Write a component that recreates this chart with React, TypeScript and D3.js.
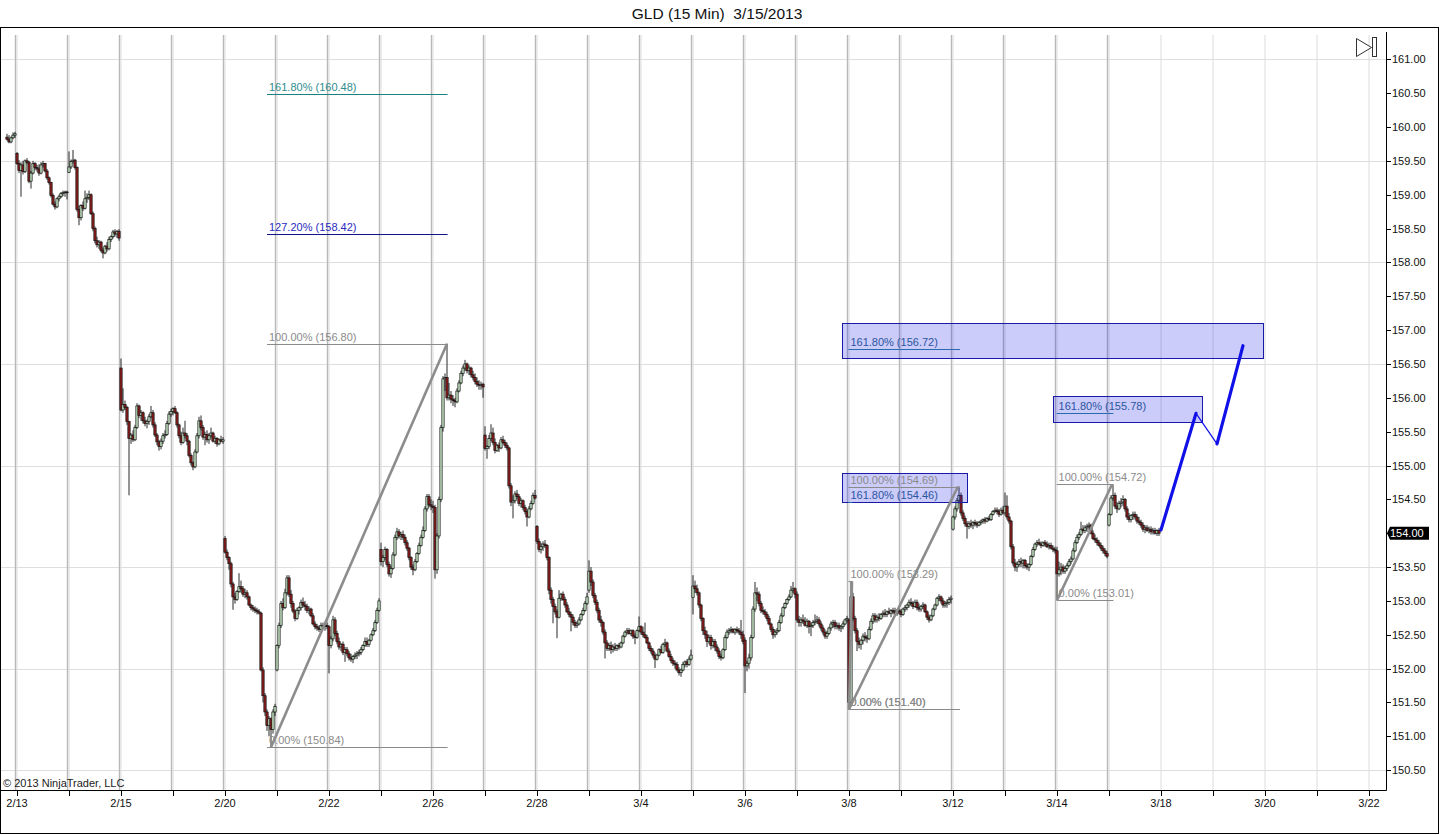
import React from 'react';
import * as d3 from 'd3';

// ---------- data ----------
const TITLE = 'GLD (15 Min)  3/15/2013';
const COPYRIGHT = '\u00A9 2013 NinjaTrader, LLC';
const DAYS = ['2/13','2/14','2/15','2/19','2/20','2/21','2/22','2/25','2/26','2/27','2/28','3/1','3/4','3/5','3/6','3/7','3/8','3/11','3/12','3/13','3/14','3/15','3/18','3/19','3/20','3/21','3/22'];
const BARS_PER_DAY = 26;
const LAST_DATA_DAY = 21;
const PRICE_TICKS = [150.5,151,151.5,152,152.5,153,153.5,154,154.5,155,155.5,156,156.5,157,157.5,158,158.5,159,159.5,160,160.5,161];
const PRICE_GRID = [150.5,152,153.5,155,156.5,158,159.5,161];
const LAST_PRICE = 154.0;

// 15-minute bars: [open, high, low, close] in cents above 150.00
const s0212 = [[985,990,980,982],[982,988,976,978],[978,986,976,984],[984,992,982,988],[988,993,984,990]];
const s0213 = [[961,963,944,946],[946,951,932,936],[936,948,897,944],[944,950,930,934],[934,952,932,950],[950,954,945,948],[948,950,917,920],[920,935,909,932],[932,950,930,946],[946,948,936,940],[940,944,934,938],[938,945,928,932],[932,948,930,944],[944,950,940,946],[946,947,933,935],[935,938,922,925],[925,927,915,918],[918,919,896,899],[899,902,884,886],[886,890,878,882],[882,896,880,894],[894,900,890,897],[897,904,895,902],[902,906,898,903],[903,906,897,904],[904,906,893,903]];
const s0214 = [[933,964,932,941],[941,952,938,949],[949,966,946,951],[951,953,937,940],[940,942,875,878],[878,884,855,866],[866,886,862,884],[884,890,876,880],[880,906,878,894],[894,902,888,896],[896,906,892,900],[900,902,870,872],[872,875,846,850],[850,853,828,832],[832,838,822,826],[826,833,820,830],[830,832,815,818],[818,822,806,814],[814,826,812,824],[824,830,816,820],[820,838,818,834],[834,840,830,838],[838,848,835,845],[845,849,838,842],[842,848,836,846],[846,849,832,836]];
const s0215 = [[644,658,580,582],[582,614,578,590],[590,596,582,586],[586,588,560,565],[565,566,456,540],[540,548,532,545],[545,552,535,538],[538,560,536,556],[556,592,554,588],[588,590,570,574],[574,582,566,578],[578,580,562,566],[566,572,558,562],[562,568,555,565],[565,576,560,572],[572,588,570,578],[578,582,556,560],[560,564,542,545],[545,548,530,535],[535,538,522,528],[528,540,524,536],[536,548,532,544],[544,552,540,546],[546,566,544,562],[562,580,560,576],[576,584,572,580]];
const s0219 = [[580,586,574,584],[584,588,576,578],[578,580,556,560],[560,562,540,544],[544,550,530,534],[534,556,532,548],[548,566,540,544],[544,548,530,536],[536,538,512,515],[515,518,500,504],[504,506,493,498],[498,524,496,520],[520,548,518,544],[544,572,540,566],[566,574,552,556],[556,560,538,542],[542,550,530,546],[546,552,534,538],[538,548,532,544],[544,556,540,548],[548,550,534,536],[536,544,532,540],[540,542,528,532],[532,540,530,538],[538,544,534,536],[536,542,532,538]];
const s0220 = [[392,396,370,372],[372,376,360,364],[364,366,346,355],[355,358,320,325],[325,328,287,306],[306,312,296,302],[302,316,300,314],[314,341,312,321],[321,330,312,318],[318,322,306,310],[310,318,304,312],[312,316,302,306],[306,308,292,294],[294,296,286,290],[290,294,284,288],[288,292,282,286],[286,290,280,284],[284,288,280,282],[282,284,196,198],[198,202,150,160],[160,164,130,136],[136,140,108,116],[116,130,100,126],[126,128,84,110],[110,140,104,136],[136,148,130,144]];
const s0221 = [[198,236,196,234],[234,268,230,264],[264,300,260,296],[296,304,286,290],[290,318,288,312],[312,338,308,334],[334,338,306,310],[310,316,290,296],[296,300,282,285],[285,288,270,274],[274,290,272,286],[286,292,280,290],[290,302,286,298],[298,305,290,294],[294,300,286,292],[292,296,282,286],[286,292,280,288],[288,290,276,278],[278,282,264,266],[266,270,258,262],[262,266,256,260],[260,264,254,258],[258,268,256,264],[264,268,258,262],[262,266,256,264],[264,268,258,262]];
const s0222 = [[262,264,193,234],[234,248,230,244],[244,278,240,272],[272,276,248,252],[252,256,236,240],[240,246,228,232],[232,238,226,236],[236,240,220,224],[224,232,210,228],[228,232,218,222],[222,226,212,216],[216,222,210,214],[214,220,208,218],[218,224,214,220],[220,226,214,222],[222,228,218,224],[224,232,220,228],[228,236,226,234],[234,246,232,240],[240,246,232,236],[236,244,232,242],[242,252,240,250],[250,260,248,256],[256,272,254,268],[268,290,266,286],[286,304,284,300]];
const s0225 = [[376,386,352,358],[358,368,350,364],[364,380,360,376],[376,378,350,354],[354,358,336,340],[340,352,334,348],[348,372,346,368],[368,398,366,394],[394,408,390,402],[402,406,392,396],[396,402,390,398],[398,404,390,394],[394,398,382,386],[386,390,374,378],[378,380,360,364],[364,366,346,350],[350,354,338,346],[346,362,344,358],[358,372,356,370],[370,386,368,382],[382,398,380,394],[394,410,392,404],[404,440,402,436],[436,458,432,454],[454,458,438,442],[442,450,434,440]];
const s0226 = [[440,448,430,438],[438,442,333,346],[346,400,340,396],[396,454,392,450],[450,560,446,556],[556,632,550,628],[628,636,610,630],[630,680,596,600],[600,622,596,604],[604,610,592,598],[598,604,588,596],[596,600,586,594],[594,614,592,610],[610,626,608,622],[622,640,620,636],[636,648,632,644],[644,656,640,650],[650,652,636,640],[640,648,634,644],[644,646,630,634],[634,640,626,630],[630,636,620,624],[624,630,616,620],[620,626,612,618],[618,624,612,620],[620,622,600,616]];
const s0227 = [[545,558,522,525],[525,530,510,528],[528,545,524,540],[540,561,536,548],[548,556,530,534],[534,540,518,522],[522,532,520,530],[530,534,520,526],[526,542,524,538],[538,544,532,534],[534,538,526,530],[530,534,522,526],[526,528,466,470],[470,474,440,446],[446,456,422,448],[448,462,444,458],[458,464,450,454],[454,458,440,444],[444,452,438,448],[448,450,434,438],[438,442,428,432],[432,436,410,424],[424,440,422,436],[436,448,434,444],[444,460,442,456],[456,464,450,452]];
const s0228 = [[410,412,384,388],[388,392,372,376],[376,386,370,380],[380,388,374,384],[384,390,378,382],[382,384,360,364],[364,366,310,316],[316,320,296,302],[302,306,267,292],[292,296,280,284],[284,288,245,276],[276,316,274,304],[304,312,300,310],[310,314,300,302],[302,306,290,294],[294,298,282,284],[284,290,276,280],[280,284,255,276],[276,280,264,268],[268,272,260,264],[264,270,260,266],[266,276,264,272],[272,282,270,280],[280,290,278,286],[286,300,284,296],[296,312,294,306]];
const s0301 = [[316,360,312,344],[344,350,322,328],[328,332,304,308],[308,312,294,298],[298,302,282,286],[286,290,268,272],[272,278,262,268],[268,270,250,254],[254,258,215,238],[238,242,226,230],[230,238,226,234],[234,240,222,228],[228,236,224,232],[232,238,226,230],[230,236,226,234],[234,238,228,232],[232,240,230,238],[238,250,236,248],[248,256,246,254],[254,260,250,256],[256,260,250,252],[252,258,248,256],[256,258,244,248],[248,252,236,246],[246,258,244,256],[256,277,254,262]];
const s0304 = [[262,264,250,254],[254,262,246,250],[250,268,244,246],[246,250,236,238],[238,240,226,230],[230,234,222,226],[226,230,216,220],[220,224,201,214],[214,222,212,220],[220,230,218,228],[228,234,222,224],[224,238,222,236],[236,244,232,238],[238,240,224,226],[226,230,216,218],[218,222,208,212],[212,216,204,208],[208,212,200,206],[206,210,196,198],[198,202,190,194],[194,200,188,198],[198,210,196,206],[206,212,202,210],[210,214,202,206],[206,218,204,214],[214,228,212,220]];
const s0305 = [[305,338,280,322],[322,330,312,318],[318,324,308,312],[312,314,290,294],[294,296,270,274],[274,276,250,256],[256,262,244,250],[250,256,232,240],[240,250,236,246],[246,250,228,234],[234,244,230,240],[240,244,226,232],[232,236,222,226],[226,230,214,218],[218,222,212,216],[216,230,214,228],[228,250,226,246],[246,258,244,254],[254,260,250,256],[256,262,252,258],[258,260,252,254],[254,260,250,258],[258,262,252,256],[256,260,250,254],[254,272,244,250],[250,256,236,240]];
const s0306 = [[242,246,164,204],[204,212,196,208],[208,222,200,216],[216,250,212,246],[246,292,244,288],[288,328,284,312],[312,320,300,310],[310,314,292,296],[296,300,282,286],[286,292,280,284],[284,288,276,280],[280,284,270,274],[274,278,264,266],[266,268,254,258],[258,262,244,250],[250,258,246,254],[254,260,250,256],[256,272,254,268],[268,282,266,278],[278,292,276,290],[290,298,288,296],[296,304,294,302],[302,310,300,306],[306,322,304,316],[316,328,312,318],[318,320,304,310]];
const s0307 = [[310,314,268,272],[272,278,262,268],[268,276,262,272],[272,280,266,270],[270,276,262,264],[264,274,260,270],[270,272,252,262],[262,268,248,264],[264,272,260,268],[268,280,264,270],[270,278,266,272],[272,276,262,266],[266,270,256,260],[260,264,250,254],[254,258,244,248],[248,256,244,252],[252,262,250,260],[260,270,256,266],[266,272,260,268],[268,272,258,262],[262,268,258,264],[264,268,256,260],[260,264,254,262],[262,270,258,266],[266,274,264,272],[272,278,268,274]];
const s0308 = [[272,274,140,150],[150,329,148,306],[306,312,270,274],[274,278,252,256],[256,260,226,240],[240,246,230,236],[236,244,228,242],[242,252,236,248],[248,254,240,246],[246,250,238,244],[244,262,242,258],[258,274,256,270],[270,282,266,278],[278,282,268,272],[272,280,268,276],[276,282,270,274],[274,282,272,280],[280,286,276,282],[282,288,276,280],[280,286,276,284],[284,290,280,282],[282,288,276,286],[286,290,280,284],[284,290,278,282],[282,288,278,286],[286,290,280,284]];
const s0311 = [[284,288,276,280],[280,290,278,288],[288,294,284,290],[290,296,286,294],[294,302,290,298],[298,304,292,296],[296,300,288,292],[292,302,290,298],[298,302,286,290],[290,296,284,288],[288,294,284,292],[292,298,288,294],[294,296,282,284],[284,286,272,276],[276,280,268,272],[272,280,270,278],[278,290,276,288],[288,296,286,294],[294,306,292,304],[304,310,300,306],[306,308,296,300],[300,304,290,294],[294,300,290,296],[296,302,290,298],[298,306,294,302],[302,308,296,304]];
const s0312 = [[406,426,404,424],[424,440,420,436],[436,452,432,448],[448,469,444,456],[456,460,426,430],[430,434,418,422],[422,426,410,414],[414,418,392,410],[410,418,406,414],[414,420,408,412],[412,418,406,416],[416,420,410,414],[414,418,408,412],[412,418,410,416],[416,420,412,418],[418,422,414,420],[420,424,414,418],[418,424,416,422],[422,426,418,420],[420,430,418,428],[428,434,426,432],[432,438,430,434],[434,438,428,432],[432,436,424,428],[428,438,426,434],[434,440,428,430]];
const s0313 = [[430,460,426,440],[440,456,420,424],[424,430,414,418],[418,420,376,380],[380,384,352,356],[356,362,344,350],[350,358,343,354],[354,362,350,358],[358,364,350,356],[356,362,348,360],[360,362,348,352],[352,356,346,350],[350,356,344,354],[354,368,352,366],[366,380,364,376],[376,386,374,384],[384,390,380,386],[386,392,382,384],[384,388,378,382],[382,388,380,386],[386,390,380,384],[384,388,378,380],[380,386,376,382],[382,386,376,378],[378,382,372,376],[376,380,370,374]];
const s0314 = [[374,380,301,340],[340,358,336,346],[346,356,338,350],[350,354,340,344],[344,352,340,348],[348,356,344,352],[352,362,350,358],[358,366,354,362],[362,378,360,374],[374,390,372,386],[386,398,384,394],[394,402,390,398],[398,417,396,406],[406,412,400,404],[404,412,400,408],[408,414,402,410],[410,416,404,412],[412,414,398,400],[400,404,390,392],[392,398,386,390],[390,394,382,386],[386,390,380,382],[382,386,374,378],[378,382,370,374],[374,378,366,370],[370,374,363,366]];
const s0315 = [[412,430,410,428],[428,456,426,452],[452,472,448,456],[456,460,436,440],[440,446,430,436],[436,448,434,444],[444,452,438,446],[446,456,440,450],[450,452,432,436],[436,440,420,424],[424,430,416,420],[420,428,416,426],[426,432,420,428],[428,432,420,424],[424,428,414,418],[418,424,412,416],[416,420,408,412],[412,416,402,406],[406,412,400,408],[408,412,402,404],[404,410,400,406],[406,410,398,402],[402,408,398,404],[404,408,398,400],[400,406,396,404],[404,408,396,400]];

const SESSIONS = [
  { day: -1, first: 21, bars: s0212 },
  { day: 0, first: 0, bars: s0213 },
  { day: 1, first: 0, bars: s0214 },
  { day: 2, first: 0, bars: s0215 },
  { day: 3, first: 0, bars: s0219 },
  { day: 4, first: 0, bars: s0220 },
  { day: 5, first: 0, bars: s0221 },
  { day: 6, first: 0, bars: s0222 },
  { day: 7, first: 0, bars: s0225 },
  { day: 8, first: 0, bars: s0226 },
  { day: 9, first: 0, bars: s0227 },
  { day: 10, first: 0, bars: s0228 },
  { day: 11, first: 0, bars: s0301 },
  { day: 12, first: 0, bars: s0304 },
  { day: 13, first: 0, bars: s0305 },
  { day: 14, first: 0, bars: s0306 },
  { day: 15, first: 0, bars: s0307 },
  { day: 16, first: 0, bars: s0308 },
  { day: 17, first: 0, bars: s0311 },
  { day: 18, first: 0, bars: s0312 },
  { day: 19, first: 0, bars: s0313 },
  { day: 20, first: 0, bars: s0314 },
  { day: 21, first: 0, bars: s0315 },
];

// Fibonacci extension drawings: anchors in [bar slot, price]
const FIBS = [
  { from: [127.5, 150.84], to: [215.5, 156.80], span: [125.5, 215.8], levels: [0, 100, 127.2, 161.8], ext: 'teal' },
  { from: [416.5, 151.40], to: [418, 153.29], span: [416.2, 418.2], levels: [0, 100, 161.8], ext: 'steel' },
  { from: [416.5, 151.40], to: [471, 154.69], span: [416.2, 472], levels: [0, 100, 161.8], ext: 'steel' },
  { from: [520.5, 153.01], to: [548, 154.72], span: [520.3, 548.7], levels: [0, 100, 161.8], ext: 'steel' },
];
// target rectangles: [slot start, slot end, price top, price bottom]
const BOXES = [
  [412.9, 623.2, 157.11, 156.60],
  [518.7, 593.2, 156.02, 155.64],
  [413.2, 475.5, 154.89, 154.46],
];
// projected path: [slot, price]
const PROJECTION = [[572.5, 154.05], [590, 155.77], [600.5, 155.32], [613.5, 156.77]];
const PROJECTION_WEIGHT = [3.2, 1.2, 3.2];

// ---------- layout ----------
const W = 1440, H = 835;
const PLOT = { left: 1, right: 1386, top: 33, bottom: 790 };
const FONT = 'Liberation Sans, Arial, sans-serif';

const x = d3.scaleLinear().domain([0, BARS_PER_DAY * 26]).range([16, 16 + 52 * 26]);
const y = d3.scaleLinear().domain([150.5, 161]).range([770.2, 59.3]);
const p = (v: number) => 150 + v / 100;

const LEVEL_COLOR: Record<string, { line: string; text: string }> = {
  base: { line: '#8a8a8a', text: '#8a8a8a' },
  navy: { line: '#14148a', text: '#2a2ac0' },
  teal: { line: '#1a8080', text: '#2e8c8c' },
  steel: { line: '#2a6aae', text: '#2a55a0' },
};

function Candles() {
  const out: React.ReactNode[] = [];
  SESSIONS.forEach((s) => {
    s.bars.forEach((b, j) => {
      const slot = s.day * BARS_PER_DAY + s.first + j;
      const cx = x(slot + 0.5);
      const [o, h, l, c] = b.map(p);
      const up = c >= o;
      const top = y(Math.max(o, c));
      const bot = y(Math.min(o, c));
      out.push(
        <g key={`${s.day}-${j}`}>
          <line x1={cx} x2={cx} y1={y(h)} y2={y(l)} stroke="#111" strokeWidth={0.9} />
          <rect x={cx - 1.15} y={top} width={2.3} height={Math.max(bot - top, 0.8)}
            fill={up ? '#c4e4c4' : '#8b1c1c'} stroke="#111" strokeWidth={0.7} />
        </g>
      );
    });
  });
  return <g>{out}</g>;
}

function Fib({ f, i }: { f: typeof FIBS[number]; i: number }) {
  const [s0, s1] = f.span;
  const a = f.from[1], b = f.to[1];
  return (
    <g>
      {f.levels.map((L) => {
        const price = a + (b - a) * (L / 100);
        const key = L === 0 || L === 100 ? 'base' : L === 127.2 ? 'navy' : f.ext;
        const col = LEVEL_COLOR[key];
        const yy = Math.round(y(price)) + 0.5;
        return (
          <g key={`${i}-${L}`}>
            <line x1={x(s0)} x2={x(s1)} y1={yy} y2={yy} stroke={col.line} strokeWidth={1} />
            <text x={x(s0) + 2} y={yy - 3.5} fontSize={11} fontFamily={FONT} fill={col.text}>
              {`${L.toFixed(2)}% (${price.toFixed(2)})`}
            </text>
          </g>
        );
      })}
      <line x1={x(f.from[0])} y1={y(a)} x2={x(f.to[0])} y2={y(b)} stroke="#8c8c8c" strokeWidth={2.6} />
    </g>
  );
}

export default function App() {
  const dayX = (k: number) => x(k * BARS_PER_DAY);
  return (
    <div style={{ position: 'fixed', left: 0, top: 0, width: W, height: H, background: '#fff' }}>
      <svg width={W} height={H} style={{ display: 'block' }}>
        <defs>
          <clipPath id="plot">
            <rect x={PLOT.left} y={PLOT.top} width={PLOT.right - PLOT.left} height={PLOT.bottom - PLOT.top} />
          </clipPath>
        </defs>
        <rect x={0} y={0} width={W} height={H} fill="#fff" />
        <text x={717} y={19} textAnchor="middle" fontSize={15.5} fontFamily={FONT} fill="#111" style={{ whiteSpace: 'pre' }}>{TITLE}</text>
        {/* outer frame */}
        <rect x={0.5} y={27.5} width={1438} height={806} fill="none" stroke="#000" strokeWidth={1} />

        <g clipPath="url(#plot)">
          {PRICE_GRID.map((v) => (
            <line key={v} x1={PLOT.left} x2={PLOT.right} y1={Math.round(y(v)) + 0.5} y2={Math.round(y(v)) + 0.5} stroke="#dedede" />
          ))}
          {DAYS.map((d, k) => (
            <g key={d}>
              {k <= LAST_DATA_DAY && (
                <line x1={dayX(k) - 0.5} x2={dayX(k) - 0.5} y1={35} y2={PLOT.bottom} stroke="#b8b8b8" strokeWidth={1.4} />
              )}
              <line x1={dayX(k) + 1} x2={dayX(k) + 1} y1={35} y2={PLOT.bottom} stroke="#dcdcdc" strokeWidth={1} />
            </g>
          ))}
          <Candles />
          {BOXES.map(([a, b, t, bt], i) => (
            <rect key={i} x={Math.round(x(a)) + 0.5} y={Math.round(y(t)) + 0.5} width={Math.round(x(b) - x(a))} height={Math.round(y(bt) - y(t))}
              fill="rgba(40,40,235,0.24)" stroke="#1a1aa8" strokeWidth={1} />
          ))}
          {FIBS.map((f, i) => <Fib key={i} f={f} i={i} />)}
          {PROJECTION.slice(1).map((pt, i) => (
            <line key={i} x1={x(PROJECTION[i][0])} y1={y(PROJECTION[i][1])} x2={x(pt[0])} y2={y(pt[1])}
              stroke="#1010e8" strokeWidth={PROJECTION_WEIGHT[i]} strokeLinecap="round" />
          ))}
        </g>

        {/* play-to-end icon */}
        <path d="M1356.5,38.5 L1371.5,47.5 L1356.5,56.5 Z" fill="#fff" stroke="#333" strokeWidth={1} />
        <rect x={1372.5} y={37.5} width={4} height={19} fill="#fff" stroke="#333" strokeWidth={1} />

        {/* axes */}
        <line x1={PLOT.right + 0.5} x2={PLOT.right + 0.5} y1={32} y2={PLOT.bottom + 0.5} stroke="#000" />
        <line x1={0} x2={PLOT.right + 0.5} y1={PLOT.bottom + 0.5} y2={PLOT.bottom + 0.5} stroke="#000" />
        {PRICE_TICKS.map((v) => {
          const yy = Math.round(y(v)) + 0.5;
          return (
            <g key={v}>
              <line x1={PLOT.right} x2={PLOT.right + 5} y1={yy} y2={yy} stroke="#000" />
              <text x={PLOT.right + 6} y={yy} dy="0.35em" fontSize={11} fontFamily={FONT} fill="#111">{v.toFixed(2)}</text>
            </g>
          );
        })}
        {DAYS.map((d, k) => (
          <g key={d}>
            <line x1={Math.round(dayX(k)) + 1.5} x2={Math.round(dayX(k)) + 1.5} y1={PLOT.bottom} y2={PLOT.bottom + 6} stroke="#000" />
            {k % 2 === 0 && (
              <text x={dayX(k) + 1} y={807} textAnchor="middle" fontSize={11} fontFamily={FONT} fill="#111">{d}</text>
            )}
          </g>
        ))}
        {/* last price marker */}
        <g>
          <path d={`M${PLOT.right + 1},${y(LAST_PRICE)} L${PLOT.right + 4},${y(LAST_PRICE) - 6.5} L${1429},${y(LAST_PRICE) - 6.5} L${1429},${y(LAST_PRICE) + 6.5} L${PLOT.right + 4},${y(LAST_PRICE) + 6.5} Z`} fill="#000" />
          <text x={1390} y={y(LAST_PRICE)} dy="0.36em" fontSize={11} fontFamily={FONT} fill="#fff">{LAST_PRICE.toFixed(2)}</text>
        </g>
        <text x={3} y={787} fontSize={11} fontFamily={FONT} fill="#222">{COPYRIGHT}</text>
      </svg>
    </div>
  );
}
